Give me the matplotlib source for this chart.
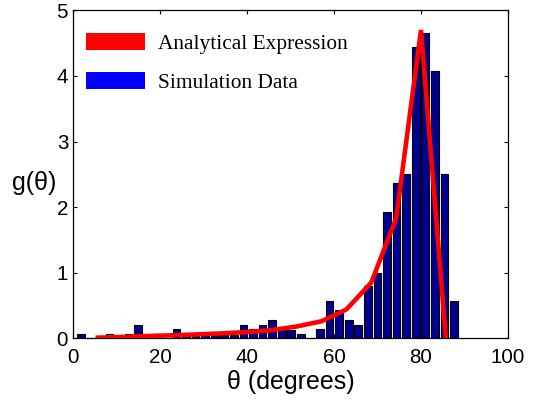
import matplotlib
matplotlib.use("Agg")
import matplotlib.pyplot as plt
from matplotlib.patches import Patch
import numpy as np

# Histogram (simulation data): bin centres in degrees and heights
bin_start = 1.78
bin_width = 2.2
sim_heights = [0.07, 0.0, 0.0, 0.07, 0.0, 0.07, 0.21, 0.0, 0.07, 0.0,
               0.14, 0.07, 0.07, 0.07, 0.05, 0.05, 0.05, 0.21, 0.14, 0.21,
               0.28, 0.15, 0.13, 0.07, 0.0, 0.14, 0.57, 0.43, 0.28, 0.21,
               0.79, 1.00, 1.93, 2.37, 2.50, 4.44, 4.65, 4.08, 2.50, 0.57]

# Analytical expression
theta_an = [5.71, 11.43, 17.14, 22.86, 28.57, 34.29, 40.0, 45.71, 51.43,
            57.14, 62.86, 68.57, 74.29, 80.0, 85.71]
g_an = [0.01, 0.02, 0.035, 0.045, 0.06, 0.075, 0.095, 0.125, 0.18,
        0.26, 0.44, 0.85, 1.83, 4.70, 0.0]

x_ticks = [0, 20, 40, 60, 80, 100]
y_ticks = [0, 1, 2, 3, 4, 5]

sans = ['Liberation Sans', 'DejaVu Sans']
serif = ['Liberation Serif', 'DejaVu Serif']

fig = plt.figure(figsize=(5.38, 4.01), dpi=100)
ax = fig.add_axes([73/538, 1-338.3/401, 435/538, 328/401])

centres = bin_start + bin_width*np.arange(len(sim_heights))
ax.bar(centres, sim_heights, width=0.8*bin_width, color='#000090',
       edgecolor='black', linewidth=0.8, zorder=2)
ax.plot(theta_an, g_an, color='#ff0000', linewidth=3.3, zorder=3,
        solid_joinstyle='miter')

ax.set_xlim(0, 100)
ax.set_ylim(0, 5)
ax.set_xticks(x_ticks)
ax.set_yticks(y_ticks)
ax.tick_params(direction='in', top=True, right=True, length=3.2, width=0.8,
               labelsize=14.8)
ax.tick_params(axis='x', pad=7.3)
ax.tick_params(axis='y', pad=3.5)
for lab in ax.get_xticklabels() + ax.get_yticklabels():
    lab.set_family(sans)
for s in ax.spines.values():
    s.set_linewidth(0.9)

ax.set_xlabel('θ (degrees)', fontsize=18, family=sans, labelpad=1.5)
ax.set_ylabel('g(θ)', fontsize=18, family=sans, rotation=0, labelpad=0,
              va='center', ha='center')
ax.yaxis.set_label_coords(-0.089, 0.475)

handles = [Patch(facecolor='#ff0000', edgecolor='none'),
           Patch(facecolor='#0000ff', edgecolor='none')]
leg = ax.legend(handles, ['Analytical Expression', 'Simulation Data'],
                loc='upper left', bbox_to_anchor=(0.03, 0.93), frameon=False,
                borderaxespad=0, borderpad=0, handlelength=2.75,
                handleheight=0.82, handletextpad=0.62, labelspacing=0.85,
                prop={'family': serif, 'size': 15.4})

fig.savefig('out.png', dpi=100)
